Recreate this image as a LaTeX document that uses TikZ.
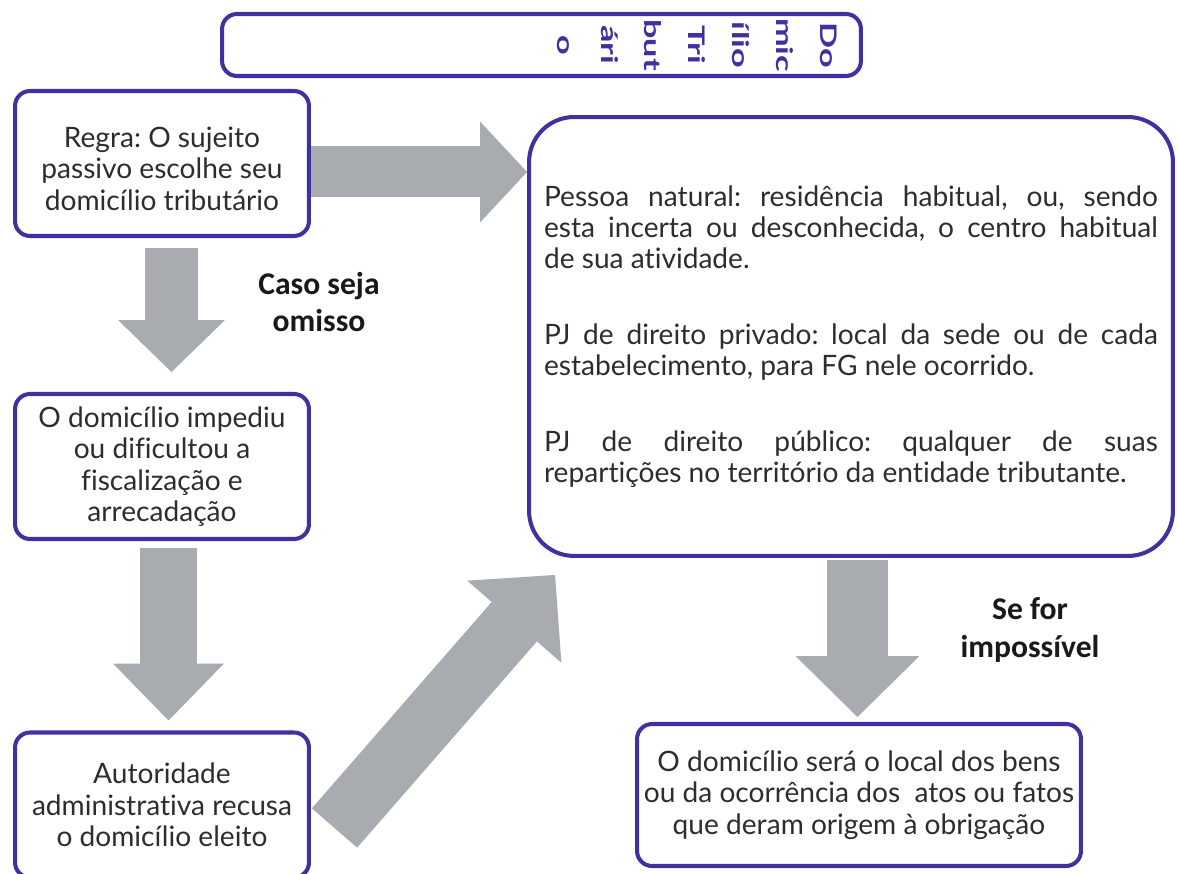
\documentclass[tikz,border=0pt]{standalone}
\usepackage{fontspec}
\setmainfont{Lato}[Ligatures=NoCommon]
\newfontfamily\lblfont{Carlito}
\usepackage{graphicx}
\usetikzlibrary{arrows.meta, positioning, calc}

\definecolor{roxo}{RGB}{64,48,160}
\definecolor{cinza}{RGB}{168,172,176}
\definecolor{texto}{RGB}{45,45,45}

\tikzset{
  caixa/.style={draw=roxo, line width=2.3pt, rounded corners=0.3cm, fill=white,
    text=texto, align=center, inner sep=0pt,
    font=\fontsize{16}{17.9}\selectfont\frenchspacing},
  seta/.style n args={3}{draw=cinza, line width=#1,
    -{Triangle[length=#3, width=#2, line width=0pt, fill=cinza]}},
  rotulo/.style={font=\lblfont\bfseries\fontsize{18}{21.5}\selectfont,
    align=center, text=black!90},
}

\begin{document}
\begin{tikzpicture}[x=0.02cm, y=-0.02cm]
    \useasboundingbox (0,0) rectangle (1177,874);
    \fill[white] (0,0) rectangle (1177,874);

    % titulo
    \node[caixa, minimum width=12.78cm, minimum height=1.24cm, text=roxo] (titulo) at (541.5,45)
        {\makebox[12.4cm][r]{\rotatebox{-90}{\scalebox{1.5}[1]{\fontsize{13}{25}\selectfont\bfseries
        \begin{tabular}{@{}c@{}}Do\\mic\\ílio\\Tri\\but\\ári\\o\end{tabular}}}}};

    % coluna da esquerda
    \node[caixa, minimum width=5.88cm, minimum height=2.9cm] (regra) at (162,163.5)
        {\raisebox{-5pt}[\height][\depth]{\begin{tabular}{@{}c@{}}Regra: O sujeito\\passivo escolhe seu\\domicílio tributário\end{tabular}}};
    \node[caixa, minimum width=5.88cm, minimum height=2.9cm] (impediu) at (162,466.5)
        {O domicílio impediu\\ou dificultou a\\fiscalização e\\arrecadação};
    \node[caixa, minimum width=5.88cm, minimum height=2.9cm] (autoridade) at (162,805)
        {Autoridade\\administrativa recusa\\o domicílio eleito};

    % caixa grande
    \node[caixa, rounded corners=0.9cm, minimum width=12.88cm, minimum height=8.78cm,
          text width=12.28cm, align=justify] (pessoa) at (851,336.5)
        {Pessoa natural: residência habitual, ou, sendo\linebreak
         esta incerta ou desconhecida, o centro habitual\linebreak
         de sua atividade.\par\vspace{25pt}
         PJ de direito privado: local da sede ou de cada\linebreak
         estabelecimento, para FG nele ocorrido.\par\vspace{25pt}
         PJ de direito público: qualquer de suas\linebreak
         repartições no território da entidade tributante.};

    \node[caixa, minimum width=8.88cm, minimum height=2.84cm] (obrig) at (859,795)
        {O domicílio será o local dos bens\\ou da ocorrência dos\ \ atos ou fatos\\que deram origem à obrigação};

    % rotulos
    \node[rotulo] (omisso) at (319,302) {Caso seja\\omisso};
    \node[rotulo] (impossivel) at (1030,630) {Se for\\impossível};

    % setas
    \draw[seta={1.02cm}{2.02cm}{0.94cm}] ($(regra.east)+(0,8.5)$) -- ($(regra.east -| pessoa.west)+(0,8.5)$);
    \draw[seta={1.06cm}{2.14cm}{1.04cm}] ($(regra.south)+(9.5,10)$) -- ($(impediu.north)+(9.5,-20)$);
    \draw[seta={1.14cm}{2.22cm}{1.14cm}] ($(impediu.south)+(6.5,7)$) -- ($(autoridade.north)+(6.5,-10)$);
    \draw[seta={1.2cm}{2.5cm}{1.24cm}] ($(autoridade.east)+(23.5,23)$) -- ($(pessoa.south west)+(28,17)$);
    \draw[seta={1.22cm}{2.48cm}{1.22cm}] ($(obrig.north |- pessoa.south)+(-1.5,2)$) -- ($(obrig.north)+(-1.5,-5)$);
\end{tikzpicture}
\end{document}
